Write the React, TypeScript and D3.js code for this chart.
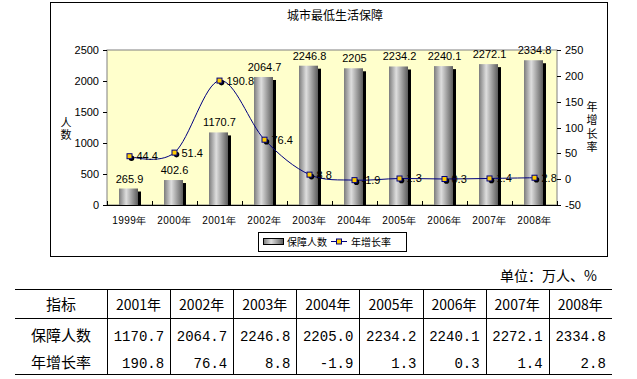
import React from "react";
import * as d3 from "d3";

const years = ["1999年", "2000年", "2001年", "2002年", "2003年", "2004年", "2005年", "2006年", "2007年", "2008年"];
const people = [265.9, 402.6, 1170.7, 2064.7, 2246.8, 2205, 2234.2, 2240.1, 2272.1, 2334.8];
const growth = [44.4, 51.4, 190.8, 76.4, 8.8, -1.9, 1.3, 0.3, 1.4, 2.8];
const leftTicks = [0, 500, 1000, 1500, 2000, 2500];
const rightTicks = [-50, 0, 50, 100, 150, 200, 250];

const tableYears = ["2001年", "2002年", "2003年", "2004年", "2005年", "2006年", "2007年", "2008年"];
const tablePeople = ["1170.7", "2064.7", "2246.8", "2205.0", "2234.2", "2240.1", "2272.1", "2334.8"];
const tableGrowth = ["190.8", "76.4", "8.8", "-1.9", "1.3", "0.3", "1.4", "2.8"];

const CJK = "'Noto Sans CJK SC', sans-serif";
const SANS = "'Liberation Sans', Arial, sans-serif";
const MONO = "'Liberation Mono', monospace";

export default function App() {
  const x = d3.scaleBand<string>().domain(years).range([107, 557]);
  const yL = d3.scaleLinear().domain([0, 2500]).range([205, 50]);
  const yR = d3.scaleLinear().domain([-50, 250]).range([205, 50]);
  const cx = (i: number) => (x(years[i]) as number) + x.bandwidth() / 2;
  const barW = 19;

  const line = d3
    .line<number>()
    .x((_, i) => cx(i))
    .y((d) => yR(d))
    .curve(d3.curveCatmullRom.alpha(0));

  // table layout
  const colX = d3.range(tableYears.length + 1).map((i) => 107 + i * 63.1);
  const tLeft = 15;
  const tRight = 612;

  return (
    <svg width={637} height={379} style={{ position: "absolute", left: 0, top: 0, background: "#fff" }}>
      <defs>
        <linearGradient id="barGrad" x1="0" x2="1" y1="0" y2="0">
          <stop offset="0%" stopColor="#7c7c7c" />
          <stop offset="38%" stopColor="#dedede" />
          <stop offset="100%" stopColor="#5c5c5c" />
        </linearGradient>
      </defs>
      {/* chart frame */}
      <rect x={50.5} y={2.5} width={557} height={254} fill="#fff" stroke="#000" strokeWidth={1} />
      <text x={335} y={20} textAnchor="middle" fontFamily={CJK} fontSize={12}>
        城市最低生活保障
      </text>
      {/* plot area */}
      <rect x={107} y={50} width={450} height={155} fill="#ffffcc" stroke="#808080" strokeWidth={1} />

      {/* bars */}
      {people.map((v, i) => {
        const bx = cx(i) - barW / 2 - 1;
        const top = yL(v);
        const h = yL(0) - top;
        return (
          <g key={"b" + i}>
            <rect x={bx + 3} y={top + 3} width={barW} height={h - 3} fill="#000" />
            <rect x={bx} y={top} width={barW} height={h} fill="url(#barGrad)" />
          </g>
        );
      })}

      {/* axes */}
      <line x1={107} x2={557} y1={205.5} y2={205.5} stroke="#000" />
      {d3.range(years.length + 1).map((i) => {
        const xx = Math.round(107 + i * x.bandwidth()) + 0.5;
        return <line key={"xt" + i} x1={xx} x2={xx} y1={201} y2={205} stroke="#000" />;
      })}
      {leftTicks.map((t) => (
        <g key={"lt" + t}>
          <line x1={103} x2={107} y1={Math.round(yL(t)) + 0.5} y2={Math.round(yL(t)) + 0.5} stroke="#000" />
          <text x={99} y={yL(t) + 4} textAnchor="end" fontFamily={SANS} fontSize={11}>
            {t}
          </text>
        </g>
      ))}
      {rightTicks.map((t) => (
        <g key={"rt" + t}>
          <line x1={557} x2={561} y1={Math.round(yR(t)) + 0.5} y2={Math.round(yR(t)) + 0.5} stroke="#000" />
          <text x={565} y={yR(t) + 4} textAnchor="start" fontFamily={SANS} fontSize={11}>
            {t}
          </text>
        </g>
      ))}
      {years.map((y, i) => (
        <text key={"xl" + i} x={cx(i)} y={224} textAnchor="middle" fontFamily={SANS} fontSize={10} letterSpacing={0.5}>
          {y}
        </text>
      ))}
      {/* axis titles (vertical) */}
      <text
        x={66}
        y={129}
        textAnchor="middle"
        fontFamily={CJK}
        fontSize={11}
        letterSpacing={1}
        style={{ writingMode: "vertical-rl" }}
      >
        人数
      </text>
      <text
        x={592}
        y={128}
        textAnchor="middle"
        fontFamily={CJK}
        fontSize={11}
        letterSpacing={2.5}
        style={{ writingMode: "vertical-rl" }}
      >
        年增长率
      </text>

      {/* line */}
      <path d={line(growth) || ""} fill="none" stroke="#000080" strokeWidth={1} />
      {growth.map((v, i) => (
        <g key={"m" + i}>
          <circle cx={cx(i) + 2} cy={yR(v) + 2} r={2.8} fill="#000" />
          <rect x={cx(i) - 2.5} y={yR(v) - 2.5} width={5} height={5} fill="#ffcc00" stroke="#000080" strokeWidth={1} />
        </g>
      ))}

      {/* labels */}
      {people.map((v, i) => (
        <text key={"pl" + i} x={cx(i)} y={yL(v) - 6} textAnchor="middle" fontFamily={SANS} fontSize={11}>
          {String(v)}
        </text>
      ))}
      {growth.map((v, i) => (
        <text key={"gl" + i} x={cx(i) + 7} y={yR(v) + 4} textAnchor="start" fontFamily={SANS} fontSize={11}>
          {String(v)}
        </text>
      ))}

      {/* legend */}
      <rect x={258.5} y={232.5} width={148} height={19} fill="#fff" stroke="#000" />
      <rect x={263.5} y={238.5} width={20} height={6} fill="url(#barGrad)" stroke="#000" />
      <text x={287} y={246} fontFamily={CJK} fontSize={10}>
        保障人数
      </text>
      <line x1={331} x2={347} y1={241.5} y2={241.5} stroke="#000080" />
      <rect x={336.5} y={239} width={5} height={5} fill="#ffcc00" stroke="#000080" />
      <text x={351} y={246} fontFamily={CJK} fontSize={10}>
        年增长率
      </text>

      {/* table */}
      <text x={597} y={281} textAnchor="end" fontFamily={CJK} fontSize={14}>
        单位：万人、%
      </text>
      <line x1={tLeft} x2={tRight} y1={289.5} y2={289.5} stroke="#000" />
      <line x1={tLeft} x2={tRight} y1={318.5} y2={318.5} stroke="#000" />
      <line x1={tLeft} x2={tRight} y1={374.5} y2={374.5} stroke="#000" />
      {colX.slice(0, tableYears.length).map((cxx, i) => (
        <line key={"cl" + i} x1={Math.round(cxx) + 0.5} x2={Math.round(cxx) + 0.5} y1={289} y2={375} stroke="#000" />
      ))}
      <text x={61} y={310} textAnchor="middle" fontFamily={CJK} fontSize={15}>
        指标
      </text>
      <text x={61} y={341} textAnchor="middle" fontFamily={CJK} fontSize={15}>
        保障人数
      </text>
      <text x={61} y={368} textAnchor="middle" fontFamily={CJK} fontSize={15}>
        年增长率
      </text>
      {tableYears.map((y, i) => (
        <text key={"th" + i} x={(colX[i] + colX[i + 1]) / 2} y={310} textAnchor="middle" fontFamily={CJK} fontSize={14}>
          {y}
        </text>
      ))}
      {tablePeople.map((v, i) => (
        <text key={"tp" + i} x={colX[i + 1] - 6} y={341} textAnchor="end" fontFamily={MONO} fontSize={14}>
          {v}
        </text>
      ))}
      {tableGrowth.map((v, i) => (
        <text key={"tg" + i} x={colX[i + 1] - 6} y={368} textAnchor="end" fontFamily={MONO} fontSize={14}>
          {v}
        </text>
      ))}
    </svg>
  );
}
